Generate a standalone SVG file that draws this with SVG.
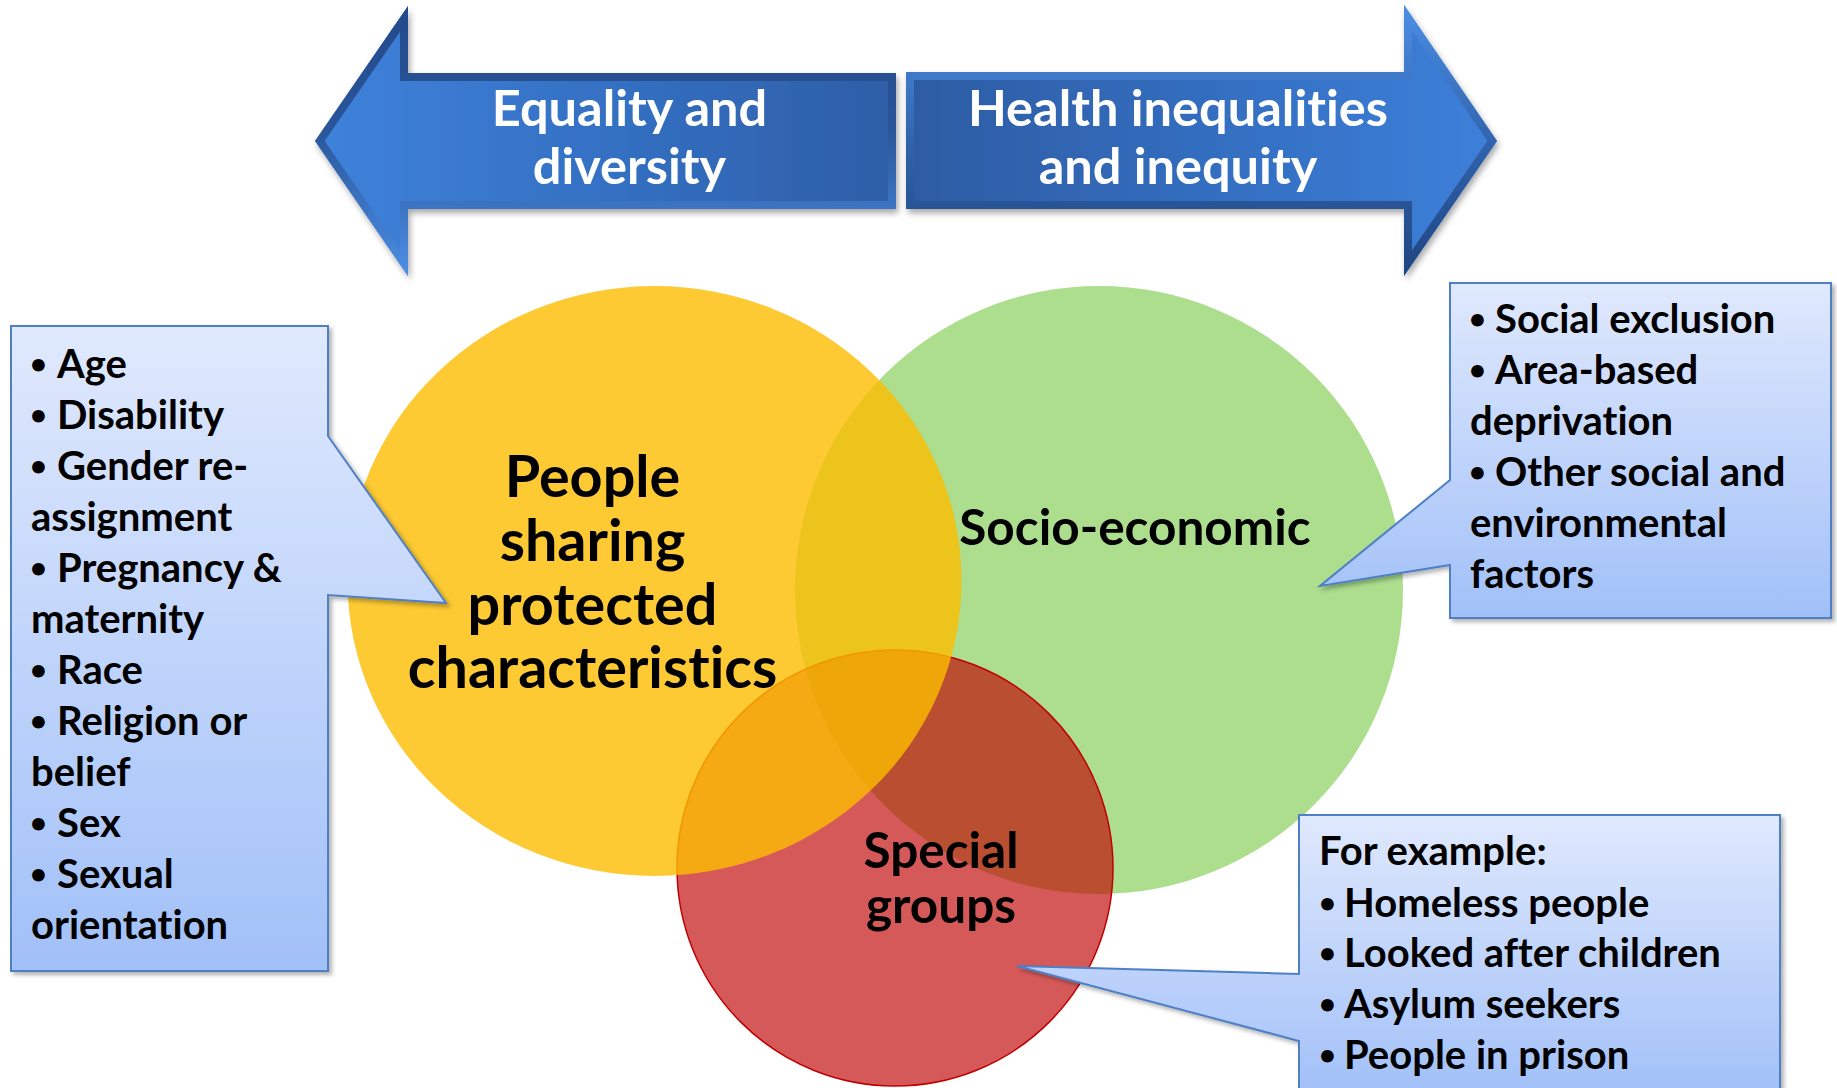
<svg xmlns="http://www.w3.org/2000/svg" width="1837" height="1088" viewBox="0 0 1837 1088">
  <defs>
    <style>
      text { font-variant-ligatures: none; font-feature-settings: "liga" 0, "dlig" 0; }
      .lbl { font-family: Lato, "Liberation Sans", "DejaVu Sans", sans-serif; font-weight: 700; fill: #000; }
      .arrow-text { font-family: Lato, "Liberation Sans", "DejaVu Sans", sans-serif; font-weight: 700; font-size: 50.5px; fill: #fff; text-anchor: middle; }
      .item { font-size: 40px; }
      .dot { font-size: 29px; }
      .set { text-anchor: middle; }
      .callout { fill: url(#calloutFill); stroke: #4f7fc4; stroke-width: 2; filter: url(#boxShadow); }
    </style>

    <!-- Callout box fill: pale blue fading to a stronger blue at the bottom -->
    <linearGradient id="calloutFill" x1="0" y1="0" x2="0" y2="1">
      <stop offset="0" stop-color="#e0e9fd"/>
      <stop offset="1" stop-color="#a1c0f8"/>
    </linearGradient>

    <!-- Arrow bodies -->
    <linearGradient id="leftArrowFill" x1="0" y1="0" x2="1" y2="0">
      <stop offset="0" stop-color="#3f82db"/>
      <stop offset="0.5" stop-color="#3470c3"/>
      <stop offset="1" stop-color="#2d5ea7"/>
    </linearGradient>
    <linearGradient id="rightArrowFill" x1="0" y1="0" x2="1" y2="0">
      <stop offset="0" stop-color="#2d5ca3"/>
      <stop offset="0.5" stop-color="#336dbf"/>
      <stop offset="1" stop-color="#3d80da"/>
    </linearGradient>
    <!-- Bevel edges -->
    <linearGradient id="leftBevel" x1="0" y1="0" x2="0" y2="1">
      <stop offset="0" stop-color="#23498a"/>
      <stop offset="0.45" stop-color="#2a5599"/>
      <stop offset="1" stop-color="#4c8fe6"/>
    </linearGradient>
    <linearGradient id="rightBevel" x1="0" y1="0" x2="0" y2="1">
      <stop offset="0" stop-color="#4c8fe6"/>
      <stop offset="0.55" stop-color="#2f60a8"/>
      <stop offset="1" stop-color="#1f4580"/>
    </linearGradient>

    <clipPath id="clipLeftArrow">
      <path d="M315,141 L408,6 V73 H896 V209 H408 V276 Z"/>
    </clipPath>
    <clipPath id="clipRightArrow">
      <path d="M906,72 H1404 V5 L1497,141 L1404,276 V209 H906 Z"/>
    </clipPath>

    <filter id="arrowShadow" x="-10%" y="-10%" width="120%" height="130%">
      <feDropShadow dx="2" dy="4" stdDeviation="3" flood-color="#000" flood-opacity="0.35"/>
    </filter>
    <filter id="boxShadow" x="-10%" y="-10%" width="120%" height="120%">
      <feDropShadow dx="3" dy="3" stdDeviation="2" flood-color="#000" flood-opacity="0.3"/>
    </filter>
  </defs>

  <rect width="1837" height="1088" fill="#fff"/>

  <!-- Double-headed banner arrow, left half -->
  <g id="arrow-equality">
    <path d="M315,141 L408,6 V73 H896 V209 H408 V276 Z" fill="url(#leftArrowFill)" filter="url(#arrowShadow)"/>
    <path d="M315,141 L408,6 V73 H896 V209 H408 V276 Z" fill="none" stroke="url(#leftBevel)" stroke-width="16" clip-path="url(#clipLeftArrow)" stroke-linejoin="miter"/>
    <text class="arrow-text" x="629.5" y="126">Equality and</text>
    <text class="arrow-text" x="629.5" y="184">diversity</text>
  </g>

  <!-- Double-headed banner arrow, right half -->
  <g id="arrow-inequalities">
    <path d="M906,72 H1404 V5 L1497,141 L1404,276 V209 H906 Z" fill="url(#rightArrowFill)" filter="url(#arrowShadow)"/>
    <path d="M906,72 H1404 V5 L1497,141 L1404,276 V209 H906 Z" fill="none" stroke="url(#rightBevel)" stroke-width="16" clip-path="url(#clipRightArrow)" stroke-linejoin="miter"/>
    <text class="arrow-text" x="1178" y="126">Health inequalities</text>
    <text class="arrow-text" x="1178" y="184">and inequity</text>
  </g>

  <!-- Venn sets: green at the back, red over it, yellow on top -->
  <g id="set-socioeconomic">
    <ellipse cx="1099" cy="590" rx="304" ry="304" fill="#acde8e"/>
    <text class="lbl set" x="1135" y="545" font-size="49.5">Socio-economic</text>
  </g>

  <g id="set-special-groups">
    <circle cx="895" cy="868" r="218" fill="#c00000" fill-opacity="0.65" stroke="#c00000" stroke-width="1.5"/>
    <text class="lbl set" x="941" y="868" font-size="49.5">Special</text>
    <text class="lbl set" x="941" y="923" font-size="49.5">groups</text>
  </g>

  <g id="set-protected">
    <ellipse cx="654.5" cy="581" rx="307" ry="295" fill="#fcbd00" fill-opacity="0.8"/>
    <text class="lbl set" x="592.5" y="497" font-size="57.5">People</text>
    <text class="lbl set" x="592.5" y="561" font-size="57.5">sharing</text>
    <text class="lbl set" x="592.5" y="625" font-size="57.5">protected</text>
    <text class="lbl set" x="592.5" y="688" font-size="57.5">characteristics</text>
  </g>

  <!-- Callout: protected characteristics -->
  <g id="callout-characteristics">
    <path class="callout" d="M11,326 H328 V436 L446,603 L328,595 V971 H11 Z"/>
    <text class="lbl item"><tspan class="dot" x="30" y="374">•</tspan><tspan x="57" y="377.5">Age</tspan></text>
    <text class="lbl item"><tspan class="dot" x="30" y="425">•</tspan><tspan x="57" y="428.5">Disability</tspan></text>
    <text class="lbl item"><tspan class="dot" x="30" y="476">•</tspan><tspan x="57" y="479.6">Gender re-</tspan></text>
    <text class="lbl item" x="31" y="530.6">assignment</text>
    <text class="lbl item"><tspan class="dot" x="30" y="578">•</tspan><tspan x="57" y="581.7">Pregnancy &amp;</tspan></text>
    <text class="lbl item" x="31" y="632.8">maternity</text>
    <text class="lbl item"><tspan class="dot" x="30" y="680">•</tspan><tspan x="57" y="683.8">Race</tspan></text>
    <text class="lbl item"><tspan class="dot" x="30" y="731">•</tspan><tspan x="57" y="734.9">Religion or</tspan></text>
    <text class="lbl item" x="31" y="785.9">belief</text>
    <text class="lbl item"><tspan class="dot" x="30" y="833">•</tspan><tspan x="57" y="837">Sex</tspan></text>
    <text class="lbl item"><tspan class="dot" x="30" y="884">•</tspan><tspan x="57" y="888">Sexual</tspan></text>
    <text class="lbl item" x="31" y="939">orientation</text>
  </g>

  <!-- Callout: socio-economic factors -->
  <g id="callout-socioeconomic">
    <path class="callout" d="M1450,283 H1831 V618 H1450 V565 L1320,586 L1450,480 Z"/>
    <text class="lbl item"><tspan class="dot" x="1469" y="329">•</tspan><tspan x="1495" y="333">Social exclusion</tspan></text>
    <text class="lbl item"><tspan class="dot" x="1469" y="380">•</tspan><tspan x="1495" y="384">Area-based</tspan></text>
    <text class="lbl item" x="1470" y="435">deprivation</text>
    <text class="lbl item"><tspan class="dot" x="1469" y="482">•</tspan><tspan x="1495" y="486">Other social and</tspan></text>
    <text class="lbl item" x="1470" y="537">environmental</text>
    <text class="lbl item" x="1470" y="588">factors</text>
  </g>

  <!-- Callout: special groups -->
  <g id="callout-special-groups">
    <path class="callout" d="M1299,815 H1780 V1096 H1299 V1041 L1017,966 L1299,974 Z"/>
    <text class="lbl item" x="1319" y="865">For example:</text>
    <text class="lbl item"><tspan class="dot" x="1319" y="913">•</tspan><tspan x="1344" y="917">Homeless people</tspan></text>
    <text class="lbl item"><tspan class="dot" x="1319" y="963">•</tspan><tspan x="1344" y="967">Looked after children</tspan></text>
    <text class="lbl item"><tspan class="dot" x="1319" y="1014">•</tspan><tspan x="1344" y="1018">Asylum seekers</tspan></text>
    <text class="lbl item"><tspan class="dot" x="1319" y="1065">•</tspan><tspan x="1344" y="1069">People in prison</tspan></text>
  </g>
</svg>
